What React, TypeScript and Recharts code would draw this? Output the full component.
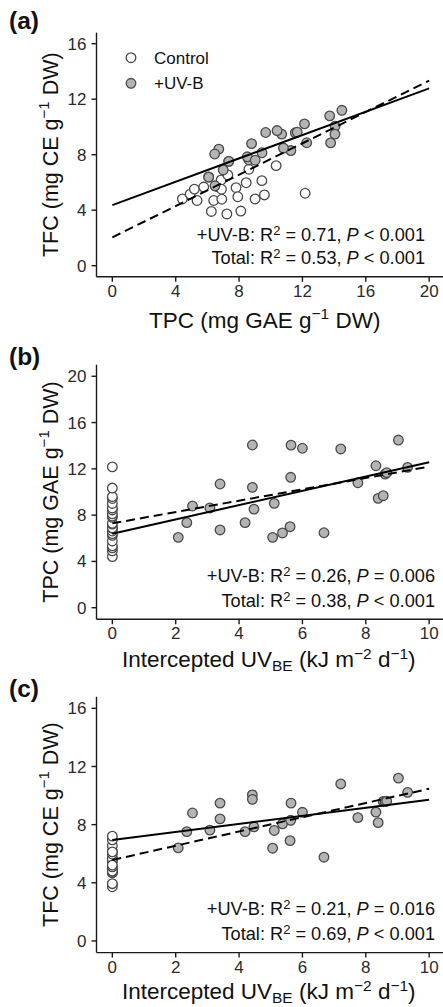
import React from 'react';
import { ScatterChart, Scatter, XAxis, YAxis } from 'recharts';

// Control plants (no UV-B; intercepted UV = 0)
const controlTPC = [4.42, 4.91, 5.18, 5.35, 5.77, 6.25, 6.40, 6.63, 6.87, 6.89, 6.91, 7.23, 7.29, 7.81, 7.92, 8.11, 8.45, 8.62, 9.01, 9.44, 9.60, 10.34, 12.17];
const controlTFC = [4.81, 5.16, 5.52, 4.70, 5.67, 3.91, 4.70, 5.69, 6.18, 5.51, 4.79, 3.73, 6.54, 5.62, 4.97, 3.94, 5.98, 6.95, 4.81, 6.13, 5.10, 7.21, 5.22];
const controlUV = [0, 0, 0, 0, 0, 0, 0, 0, 0, 0, 0, 0, 0, 0, 0, 0, 0, 0, 0, 0, 0, 0, 0];

// +UV-B plants
const uvbUV = [2.08, 2.35, 2.53, 3.08, 3.40, 3.40, 4.19, 4.42, 4.42, 4.47, 5.06, 5.11, 5.37, 5.61, 5.63, 5.64, 6.00, 6.68, 7.21, 7.75, 8.32, 8.39, 8.55, 8.61, 8.66, 9.03, 9.32];
const uvbTPC = [6.08, 7.35, 8.79, 8.62, 10.69, 6.72, 7.35, 14.06, 10.40, 8.52, 6.08, 9.02, 6.46, 7.00, 11.27, 14.05, 13.78, 6.48, 13.72, 10.80, 12.27, 9.45, 9.68, 11.55, 11.67, 14.49, 12.13];
const uvbTFC = [6.40, 7.52, 8.80, 7.62, 9.48, 8.40, 7.52, 10.05, 9.74, 7.85, 6.38, 7.60, 8.05, 6.90, 8.30, 9.48, 8.85, 5.76, 10.80, 8.48, 8.86, 8.14, 9.60, 9.58, 9.62, 11.20, 10.22];

// Regression line end points
const fitAx = [0, 20];
const fitAUvb = [4.37, 12.78];
const fitATotal = [2.04, 13.34];
const fitBx = [0, 10];
const fitBUvb = [6.40, 12.57];
const fitBTotal = [7.29, 12.19];
const fitCx = [0, 10];
const fitCUvb = [6.95, 9.72];
const fitCTotal = [5.57, 10.47];

// Tick labels
const ticksTPCx = [0, 4, 8, 12, 16, 20];
const ticksUVx = [0, 2, 4, 6, 8, 10];
const ticksTFCy = [0, 4, 8, 12, 16];
const ticksTPCy = [0, 4, 8, 12, 16, 20];

const annotA = ['0.71', '<', '0.001', '0.53', '<', '0.001'];
const annotB = ['0.26', '=', '0.006', '0.38', '<', '0.001'];
const annotC = ['0.21', '=', '0.016', '0.69', '<', '0.001'];

const zip = (xs: number[], ys: number[]) => xs.map((x, i) => ({ x, y: ys[i] }));

const FONT = '"Liberation Sans", Arial, Helvetica, sans-serif';
const GREY_FILL = '#b4b4b4';
const EDGE = '#4a4a4a';

const WhiteDot = (p: any) => <circle cx={p.cx} cy={p.cy} r={4.8} fill="#ffffff" stroke={EDGE} strokeWidth={1.3} />;
const GreyDot = (p: any) => <circle cx={p.cx} cy={p.cy} r={4.8} fill={GREY_FILL} stroke={EDGE} strokeWidth={1.3} />;
const NoDot = () => <g />;

type PanelProps = {
  top: number;
  marginTop: number;
  plotH: number;
  xDomain: [number, number];
  yDomain: [number, number];
  xTicks: number[];
  yTicks: number[];
  control: { x: number; y: number }[];
  uvb: { x: number; y: number }[];
  fitUvb: { x: number; y: number }[];
  fitTotal: { x: number; y: number }[];
};

const CHART_W = 445;
const Y_AXIS_W = 96;
const M_LEFT = 0.5;
const X_AXIS_H = 60;

function Panel(p: PanelProps) {
  const h = p.marginTop + p.plotH + X_AXIS_H;
  const axisProps = { stroke: '#1a1a1a', strokeWidth: 1.4 };
  return (
    <div style={{ position: 'absolute', left: 0, top: p.top, width: CHART_W, height: h }}>
      <ScatterChart width={CHART_W} height={h} margin={{ top: p.marginTop, right: 0, bottom: 0, left: M_LEFT }}>
        <XAxis
          type="number"
          dataKey="x"
          domain={p.xDomain}
          ticks={p.xTicks}
          allowDataOverflow
          height={X_AXIS_H}
          tickSize={5}
          tickMargin={3}
          axisLine={axisProps}
          tickLine={axisProps}
          tick={{ fill: '#2b2b2b', fontSize: 17, fontFamily: FONT }}
        />
        <YAxis
          type="number"
          dataKey="y"
          domain={p.yDomain}
          ticks={p.yTicks}
          allowDataOverflow
          width={Y_AXIS_W}
          tickSize={5}
          tickMargin={5}
          axisLine={axisProps}
          tickLine={axisProps}
          tick={{ fill: '#2b2b2b', fontSize: 17, fontFamily: FONT }}
        />
        <Scatter data={p.control} shape={WhiteDot} isAnimationActive={false} />
        <Scatter data={p.uvb} shape={GreyDot} isAnimationActive={false} />
        <Scatter
          data={p.fitTotal}
          shape={NoDot}
          line={{ stroke: '#000', strokeWidth: 2, strokeDasharray: '9 5' }}
          isAnimationActive={false}
        />
        <Scatter data={p.fitUvb} shape={NoDot} line={{ stroke: '#000', strokeWidth: 2 }} isAnimationActive={false} />
      </ScatterChart>
    </div>
  );
}

const PLOT_CX = Y_AXIS_W + M_LEFT + (CHART_W - Y_AXIS_W - M_LEFT) / 2;
const TITLE_FS = 22.5;

function YTitle({ cy, name, mid }: { cy: number; name: string; mid: string }) {
  return (
    <text x={58} y={cy} transform={`rotate(-90 58 ${cy})`} textAnchor="middle" fontSize={21.5} fill="#111">
      {`${name} (mg ${mid} g`}
      <tspan dy={-9} fontSize={15}>−1</tspan>
      <tspan dy={9}> DW)</tspan>
    </text>
  );
}

function UVTitle({ y }: { y: number }) {
  return (
    <text x={PLOT_CX - 2} y={y} textAnchor="middle" fontSize={TITLE_FS} fill="#111">
      Intercepted UV
      <tspan dy={4} fontSize={15.5}>BE</tspan>
      <tspan dy={-4}> (kJ m</tspan>
      <tspan dy={-8} fontSize={15.5}>−2</tspan>
      <tspan dy={8}> d</tspan>
      <tspan dy={-8} fontSize={15.5}>−1</tspan>
      <tspan dy={8}>)</tspan>
    </text>
  );
}

function Annot({ x, y1, y2, v }: { x: number; y1: number; y2: number; v: string[] }) {
  const line = (y: number, lab: string, r2: string, op: string, pv: string) => (
    <text x={x} y={y} textAnchor="end" fontSize={18.2} fill="#111">
      {`${lab}: R`}
      <tspan dy={-6} fontSize={13}>2</tspan>
      <tspan dy={6}>{` = ${r2}, `}</tspan>
      <tspan fontStyle="italic">P</tspan>
      <tspan>{` ${op} ${pv}`}</tspan>
    </text>
  );
  return (
    <g>
      {line(y1, '+UV-B', v[0], v[1], v[2])}
      {line(y2, 'Total', v[3], v[4], v[5])}
    </g>
  );
}

export default function App() {
  const controlA = zip(controlTPC, controlTFC);
  const uvbA = zip(uvbTPC, uvbTFC);
  const controlB = zip(controlUV, controlTPC);
  const uvbB = zip(uvbUV, uvbTPC);
  const controlC = zip(controlUV, controlTFC);
  const uvbC = zip(uvbUV, uvbTFC);

  return (
    <div
      style={{
        position: 'absolute',
        left: 0,
        top: 0,
        width: 443,
        height: 1007,
        overflow: 'hidden',
        background: '#fff',
        fontFamily: FONT,
      }}
    >
      <Panel
        top={0}
        marginTop={32.6}
        plotH={244.2}
        xDomain={[-1, 21]}
        yDomain={[-0.8, 16.8]}
        xTicks={ticksTPCx}
        yTicks={ticksTFCy}
        control={controlA}
        uvb={uvbA}
        fitUvb={zip(fitAx, fitAUvb)}
        fitTotal={zip(fitAx, fitATotal)}
      />
      <Panel
        top={340}
        marginTop={24.7}
        plotH={254.6}
        xDomain={[-0.5, 10.5]}
        yDomain={[-1, 21]}
        xTicks={ticksUVx}
        yTicks={ticksTPCy}
        control={controlB}
        uvb={uvbB}
        fitUvb={zip(fitBx, fitBUvb)}
        fitTotal={zip(fitBx, fitBTotal)}
      />
      <Panel
        top={672}
        marginTop={24.7}
        plotH={255.9}
        xDomain={[-0.5, 10.5]}
        yDomain={[-0.8, 16.8]}
        xTicks={ticksUVx}
        yTicks={ticksTFCy}
        control={controlC}
        uvb={uvbC}
        fitUvb={zip(fitCx, fitCUvb)}
        fitTotal={zip(fitCx, fitCTotal)}
      />
      <svg
        width={443}
        height={1007}
        style={{ position: 'absolute', left: 0, top: 0, pointerEvents: 'none', fontFamily: FONT }}
      >
        <text x={9} y={29} fontSize={24.5} fontWeight="bold" fill="#111">(a)</text>
        <text x={9} y={365} fontSize={24.5} fontWeight="bold" fill="#111">(b)</text>
        <text x={9} y={697} fontSize={24.5} fontWeight="bold" fill="#111">(c)</text>

        <circle cx={131} cy={57.7} r={4.8} fill="#fff" stroke={EDGE} strokeWidth={1.3} />
        <text x={154} y={63.5} fontSize={17} fill="#111">Control</text>
        <circle cx={131} cy={83.3} r={4.8} fill={GREY_FILL} stroke={EDGE} strokeWidth={1.3} />
        <text x={154} y={89} fontSize={17} fill="#111">+UV-B</text>

        <YTitle cy={154.7} name="TFC" mid="CE" />
        <YTitle cy={492} name="TPC" mid="GAE" />
        <YTitle cy={824.6} name="TFC" mid="CE" />

        <text x={PLOT_CX - 6} y={328} textAnchor="middle" fontSize={TITLE_FS} fill="#111">
          TPC (mg GAE g
          <tspan dy={-9} fontSize={15.5}>−1</tspan>
          <tspan dy={9}> DW)</tspan>
        </text>
        <UVTitle y={666.5} />
        <UVTitle y={999} />

        <Annot x={425} y1={240.5} y2={264} v={annotA} />
        <Annot x={435} y1={581.7} y2={606.7} v={annotB} />
        <Annot x={435} y1={915} y2={940} v={annotC} />
      </svg>
    </div>
  );
}
